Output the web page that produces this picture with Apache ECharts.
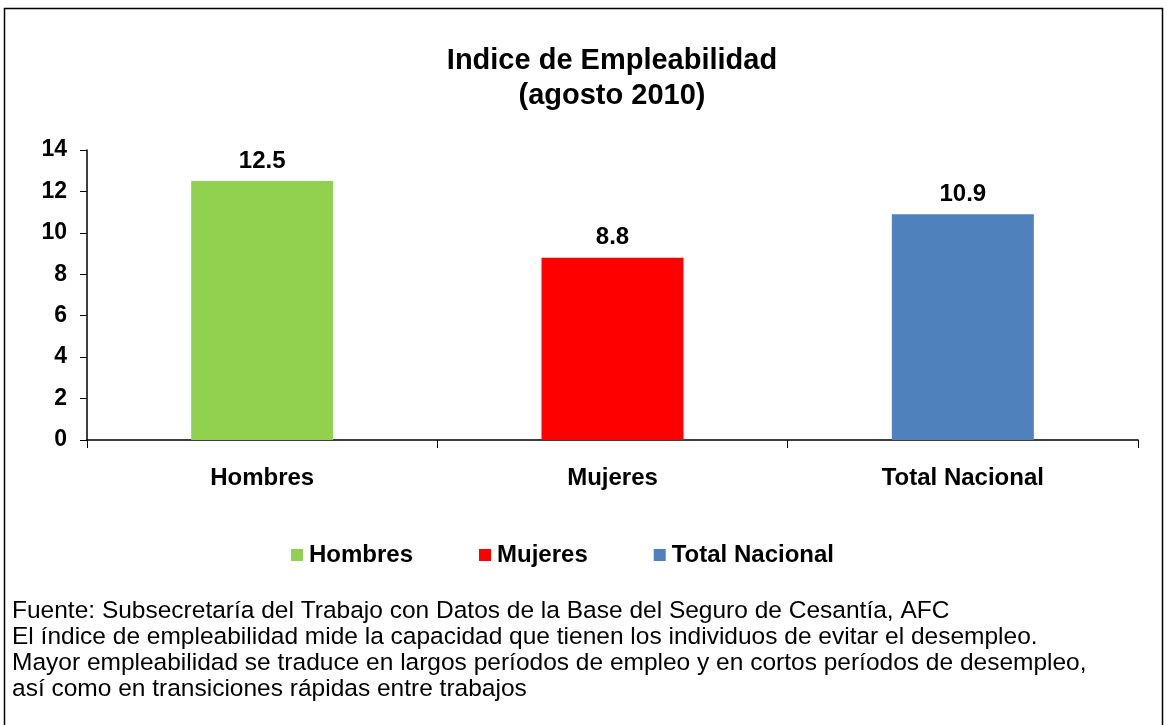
<!DOCTYPE html>
<html>
<head>
<meta charset="utf-8">
<script src="https://cdn.jsdelivr.net/npm/echarts@6/dist/echarts.min.js"></script>
<style>
 html, body { margin: 0; padding: 0; background: #fff; }
 #chart { width: 1167px; height: 725px; }
</style>
</head>
<body>
<div id="chart"></div>
<script>
// datos
var categorias = ['Hombres', 'Mujeres', 'Total Nacional'];
var valores = [12.5, 8.8, 10.9];
var colores = ['#92d050', '#ff0000', '#4f81bd'];
var notas = [
    'Fuente: Subsecretaría del Trabajo con Datos de la Base del Seguro de Cesantía, AFC',
    'El índice de empleabilidad mide la capacidad que tienen los individuos de evitar el desempleo.',
    'Mayor empleabilidad se traduce en largos períodos de empleo y en cortos períodos de desempleo,',
    'así como en transiciones rápidas entre trabajos'
];

function initEcharts() {
    var myChart = echarts.init(document.getElementById('chart'));
    var fuente = 'Liberation Sans, Arial, sans-serif';

    // una serie por categoría para que la leyenda tenga 3 entradas
    var series = categorias.map(function (c, i) {
        var d = categorias.map(function (x, j) { return j === i ? valores[i] : '-'; });
        return {
            name: c,
            type: 'bar',
            stack: 'total',
            data: d,
            barWidth: 142,
            itemStyle: { color: colores[i] },
            label: {
                show: true,
                position: 'top',
                distance: 8,
                fontSize: 24,
                fontWeight: 'bold',
                color: '#000',
                fontFamily: fuente,
                formatter: function (p) { return p.value.toFixed(1); }
            }
        };
    });

    var option = {
        backgroundColor: '#fff',
        animation: false,
        title: {
            text: 'Indice de Empleabilidad\n(agosto 2010)',
            left: 607,
            textAlign: 'center',
            top: 38,
            textStyle: {
                fontSize: 29,
                fontWeight: 'bold',
                color: '#000',
                fontFamily: fuente,
                lineHeight: 35
            }
        },
        grid: {
            left: 87,
            right: 29,
            top: 150,
            bottom: 285
        },
        legend: {
            data: categorias,
            left: 286,
            top: 538,
            itemWidth: 12,
            itemHeight: 12,
            itemGap: 66,
            icon: 'rect',
            textStyle: {
                fontSize: 24,
                fontWeight: 'bold',
                color: '#000',
                fontFamily: fuente,
                padding: [0, 0, 0, 1]
            }
        },
        xAxis: {
            type: 'category',
            data: categorias,
            axisLine: { lineStyle: { color: '#000', width: 1.5 } },
            axisTick: { show: true, length: 8, lineStyle: { color: '#000' } },
            axisLabel: {
                fontSize: 24,
                fontWeight: 'bold',
                color: '#000',
                fontFamily: fuente,
                margin: 26
            }
        },
        yAxis: {
            type: 'value',
            min: 0,
            max: 14,
            interval: 2,
            splitLine: { show: false },
            axisLine: { show: true, lineStyle: { color: '#000', width: 1.5 } },
            axisTick: { show: true, length: 7, lineStyle: { color: '#000' } },
            axisLabel: {
                fontSize: 23,
                fontWeight: 'bold',
                color: '#000',
                fontFamily: fuente,
                margin: 20
            }
        },
        graphic: [
            {
                type: 'rect',
                shape: { x: 4.5, y: 8.5, width: 1158, height: 730 },
                style: { fill: 'none', stroke: '#000', lineWidth: 1.5 },
                silent: true
            },
            {
                type: 'text',
                left: 12,
                top: 598,
                style: {
                    text: notas.join('\n'),
                    fontSize: 24.5,
                    lineHeight: 26,
                    fill: '#000',
                    fontFamily: fuente
                }
            }
        ],
        series: series
    };

    myChart.setOption(option);
    resize(myChart);
}

function resize(echart) {
    window.onresize = function () {
        echart.resize();
    };
}

initEcharts();
</script>
</body>
</html>
